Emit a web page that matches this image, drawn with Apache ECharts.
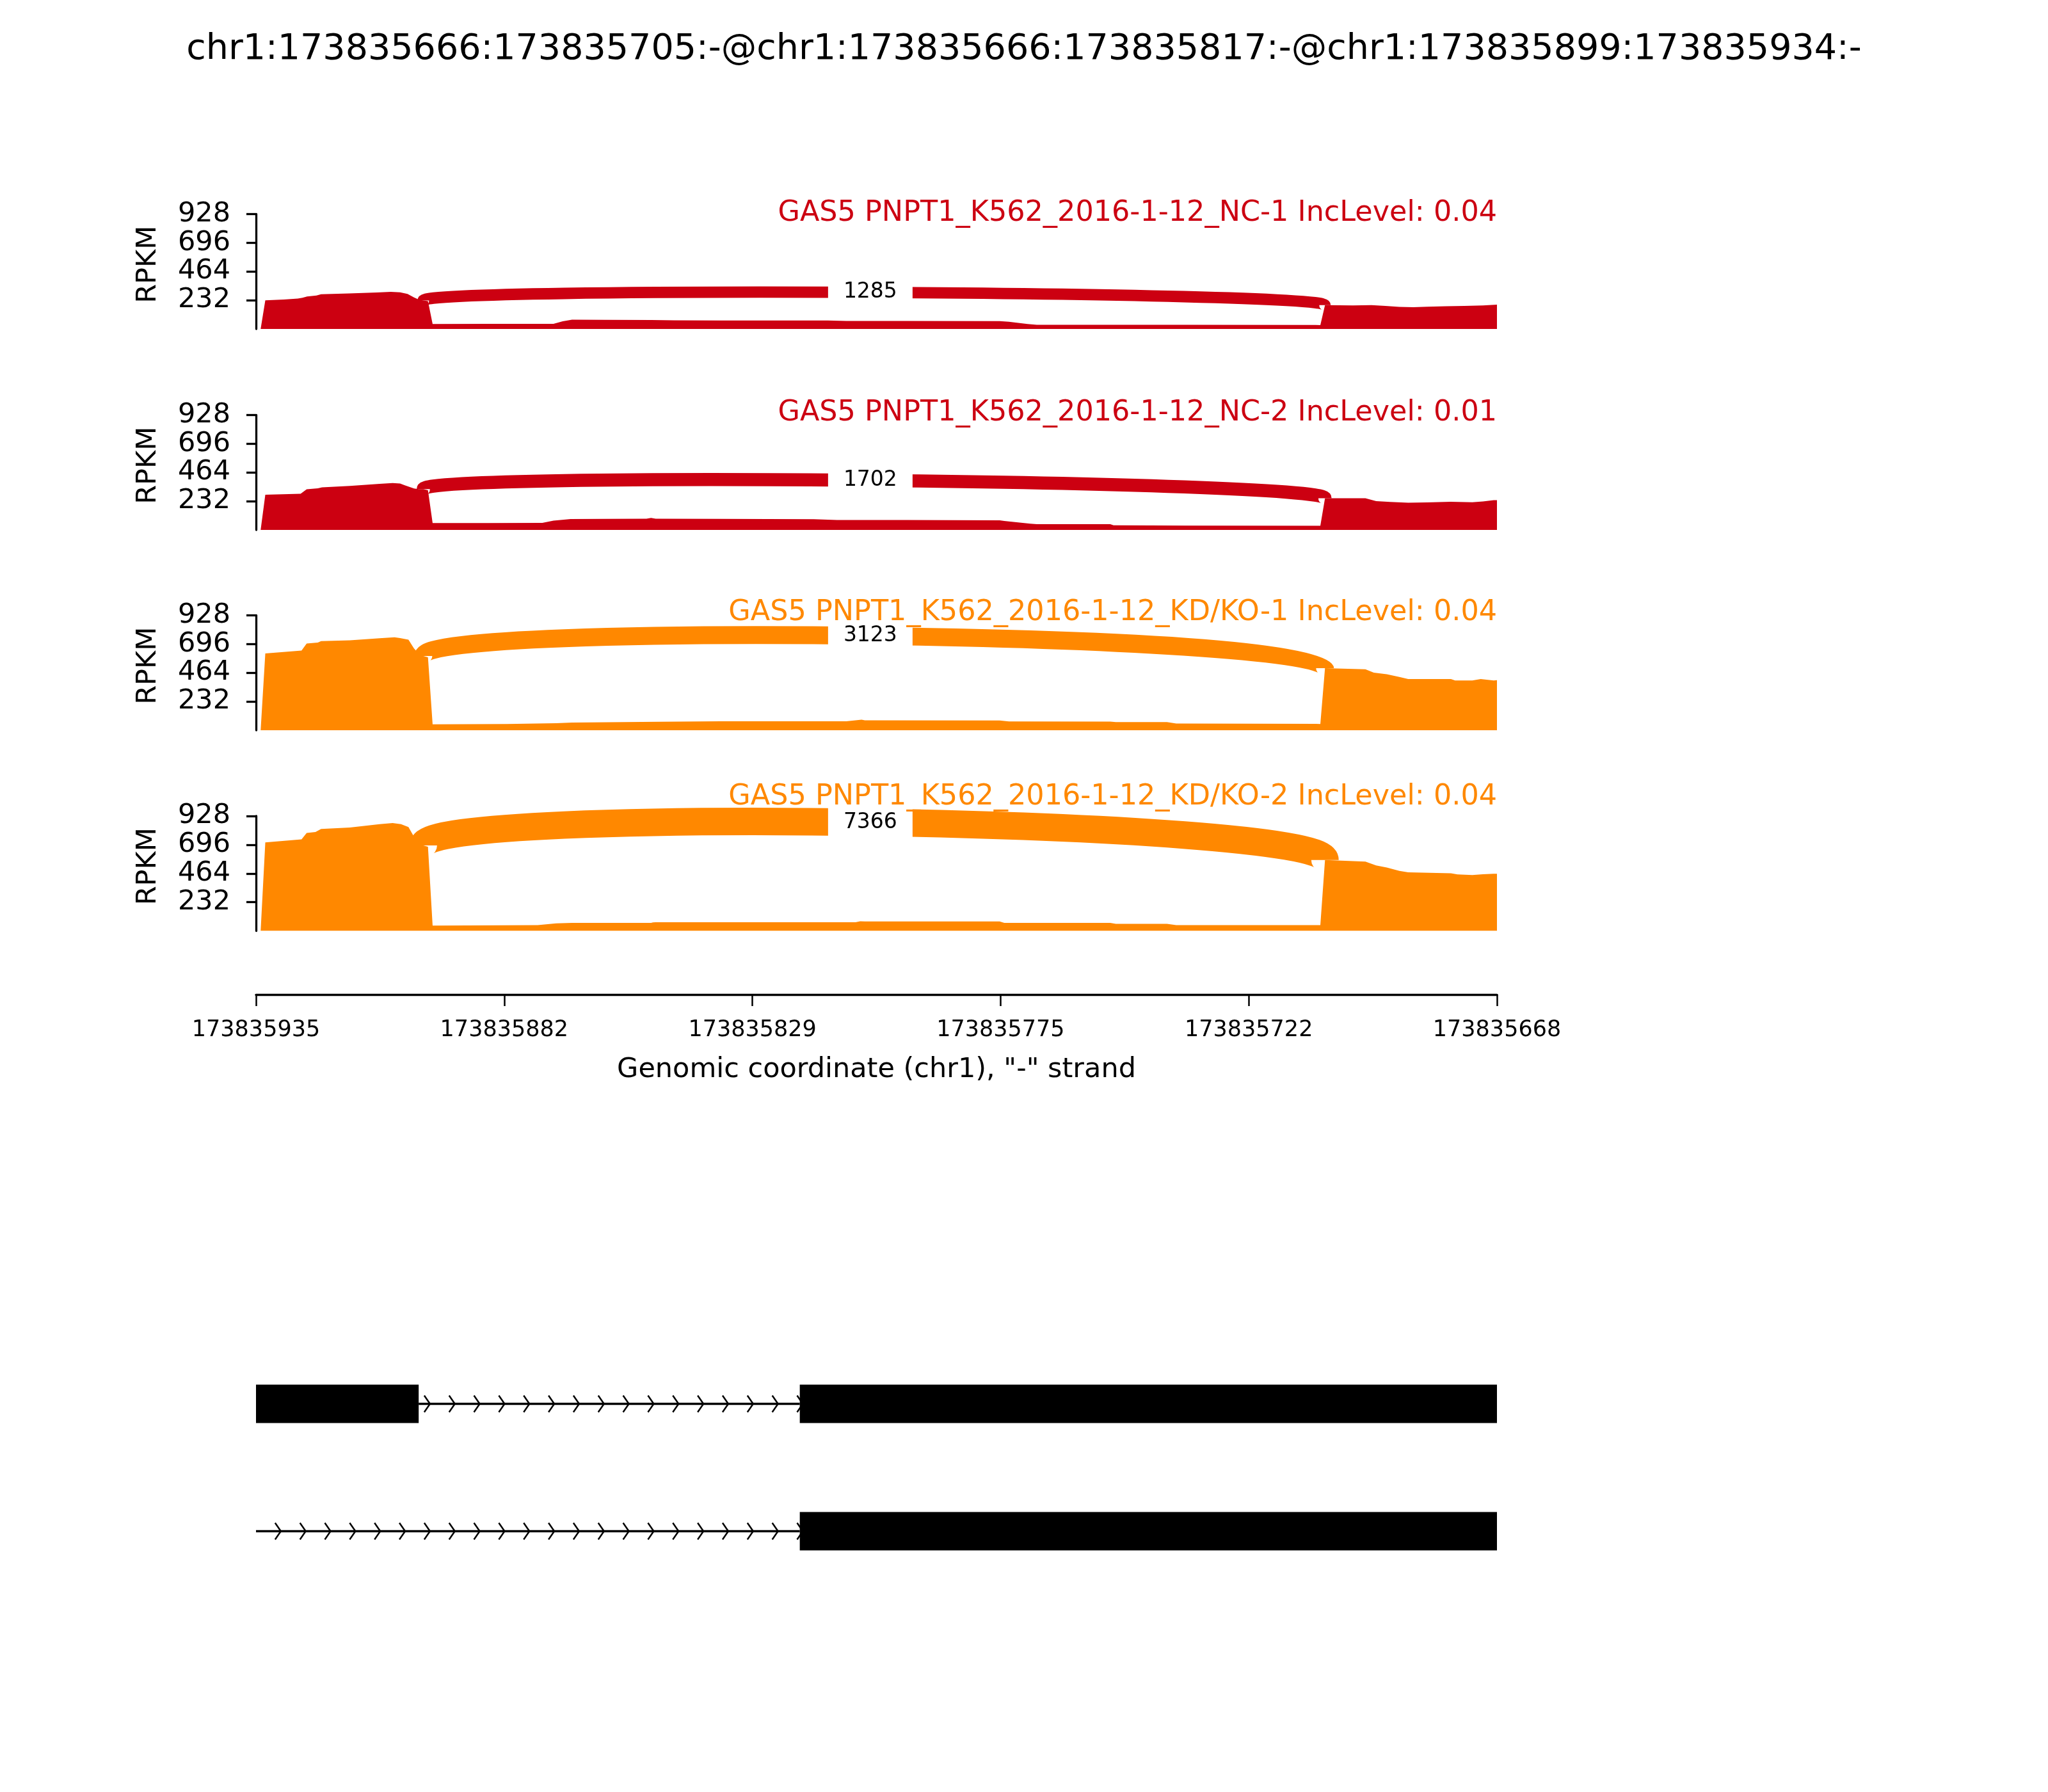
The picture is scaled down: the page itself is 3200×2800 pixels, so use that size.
<!DOCTYPE html>
<html><head><meta charset="utf-8">
<script src="https://cdn.jsdelivr.net/npm/echarts@6/dist/echarts.min.js"></script>
<style>html,body{margin:0;padding:0;background:#fff}#c{width:3200px;height:2800px}</style>
</head><body><div id="c"></div>
<script>
// ---------------- DATA ----------------
const REF = 173835935; // genomic coordinate at the left edge ("-" strand, decreasing to the right)
const chartTitle = 'chr1:173835666:173835705:-@chr1:173835666:173835817:-@chr1:173835899:173835934:-';
const sampleNames = ['GAS5 PNPT1_K562_2016-1-12_NC-1', 'GAS5 PNPT1_K562_2016-1-12_NC-2',
                     'GAS5 PNPT1_K562_2016-1-12_KD/KO-1', 'GAS5 PNPT1_K562_2016-1-12_KD/KO-2'];
const incLevels = ['0.04', '0.01', '0.04', '0.04'];
const junctionCounts = [1285, 1702, 3123, 7366];
const junctionCoords = [173835899, 173835705];           // junction donor / acceptor
const xTickLabels = ['173835935', '173835882', '173835829', '173835775', '173835722', '173835668'];
const yTickValues = [0, 232, 464, 696, 928];
const xAxisTitle = 'Genomic coordinate (chr1), "-" strand';
const yAxisTitle = 'RPKM';

// coverage: [bases from REF, RPKM]
const covNC1 = [[1,0],[2,231],[6,238],[9,245],[10,252],[11,262],[13,270],[14,280],[20,287],[26,295],[29,300],[31,296],[32.6,283],[34,255],[35,238],[36,230],[37,225],[38,40],[50,42],[64,42],[66,62],[68,75],[75,74],[85,73],[90,70],[100,68],[123,68],[127,65],[140,64],[160,63],[162,58],[166,40],[168,33],[200,33],[228,32],[229,31],[230,192],[236,190],[240,192],[243,186],[246,178],[249,176],[252,180],[256,184],[260,186],[264,190],[267,197]];
const covNC2 = [[1,0],[2,284],[9.6,292],[10.9,328],[13.3,336],[14.2,344],[20.2,356],[26.6,372],[29.4,379],[31,375],[32.1,359],[34,335],[35,330],[36,330],[37,320],[38,55],[50,56],[61.6,57],[64,75],[67.7,88],[75,89],[84,90],[85,97],[86,90],[100,89],[120,86],[125,80],[140,80],[160,78],[161,73],[166.6,50],[168,47],[183.8,46],[184.5,37],[200,35],[228,34],[229,33],[230,256],[238.7,256],[241,233],[244,226],[247.9,220],[252,222],[257,228],[261.7,224],[264,230],[266.3,240],[267,240]];
const covKD1 = [[1,0],[2,620],[9.8,644],[10.9,700],[13.3,708],[14,720],[20.2,727],[26.6,743],[29.8,751],[31,745],[32.8,731],[34,660],[35,620],[36,600],[37,590],[38,48],[54,50],[64.6,57],[68,62],[86.8,68],[100,72],[127,72],[130.3,85],[131,80],[160,79],[162,71],[183.8,70],[185,66],[196,66],[198,54],[228,52],[229,50],[230,501],[238.7,493],[240.5,465],[243.3,453],[246,430],[247.9,414],[257.1,414],[258,402],[261.7,402],[263.5,414],[266.3,402],[267,405]];
const covKD2 = [[1,0],[2,715],[9.8,739],[10.9,791],[12.8,799],[14,823],[20.2,835],[26.6,862],[29.4,871],[31.2,862],[32.8,839],[34,760],[35,710],[36,690],[37,680],[38,43],[60.6,47],[64.6,61],[68,64],[85,64],[85.4,68],[86,70],[129,70],[130,78],[131,76],[160,76],[161,64],[183.8,64],[185,57],[196,57],[198,47],[229,47],[230,572],[238.7,560],[241,528],[243.3,512],[246,485],[247.9,473],[257.1,465],[258.5,456],[261.7,451],[264,458],[266.3,461],[267,461]];

// gene models (genomic coordinates)
const track1Exons = [[173835935, 173835900], [173835818, 173835668]];
const track1Introns = [[173835900, 173835818]];
const track2Exons = [[173835818, 173835668]];
const track2Introns = [[173835935, 173835818]];

// ---------------- LAYOUT / STYLE ----------------
const coverages = [covNC1, covNC2, covKD1, covKD2];
const colors = ['#CC0011', '#CC0011', '#FF8800', '#FF8800'];
const FONT = 'DejaVu Sans';
const plotL = 400, plotR = 2339;
const panelTop = [334.5, 648.5, 961.5, 1275], panelH = 179.5;
const labelY = [333, 645, 957, 1245];
const xMax = REF - 173835668;
const tickStep = xMax / 5;

function covAt(cov, x) {
  for (let i = 1; i < cov.length; i++) {
    if (cov[i][0] >= x) {
      const a = cov[i - 1], b = cov[i];
      return a[1] + (b[1] - a[1]) * (x - a[0]) / (b[0] - a[0]);
    }
  }
  return cov[cov.length - 1][1];
}

const grids = [], xAxes = [], yAxes = [], series = [], graphics = [];
for (let i = 0; i < 4; i++) {
  grids.push({left: plotL, width: plotR - plotL, top: panelTop[i], height: panelH});
  xAxes.push({
    type: 'value', gridIndex: i, min: 0, max: xMax, interval: tickStep,
    show: i === 3, position: 'bottom', offset: 99.5,
    axisLine: {show: true, onZero: false, lineStyle: {color: '#000', width: 3.3}},
    axisTick: {show: true, length: 18, lineStyle: {color: '#000', width: 2.5}},
    axisLabel: {show: true, color: '#000', fontSize: 35, fontFamily: FONT, margin: 38,
      formatter: (v) => xTickLabels[Math.round(v / tickStep)] || ''},
    splitLine: {show: false}
  });
  yAxes.push({
    type: 'value', gridIndex: i, min: yTickValues[0], max: yTickValues[yTickValues.length - 1],
    interval: yTickValues[1] - yTickValues[0],
    axisLine: {show: true, lineStyle: {color: '#000', width: 3.3}},
    axisTick: {show: true, length: 15, lineStyle: {color: '#000', width: 3.3}},
    axisLabel: {color: '#000', fontSize: 43, fontFamily: FONT, margin: 40, showMinLabel: false},
    splitLine: {show: false}
  });
  series.push({
    type: 'line', xAxisIndex: i, yAxisIndex: i, data: coverages[i],
    showSymbol: false, symbol: 'none', lineStyle: {width: 0},
    areaStyle: {color: colors[i], opacity: 1}, itemStyle: {color: colors[i]},
    z: 2, silent: true
  });
  const cov = coverages[i];
  const xl = REF - junctionCoords[0], xr = REF - junctionCoords[1];
  const maxCov = Math.max.apply(null, cov.map(p => p[1]));
  const h = 0.375 * maxCov;
  series.push({
    type: 'custom', xAxisIndex: i, yAxisIndex: i, clip: false, z: 4, silent: true,
    data: [[xl, xr, covAt(cov, xl), covAt(cov, xr), h, junctionCounts[i]]],
    renderItem: (function (col) {
      return function (params, api) {
        const x1 = api.value(0), x2 = api.value(1), yl = api.value(2), yr = api.value(3),
              hh = api.value(4), cnt = api.value(5);
        const p0 = api.coord([x1, yl]), p1 = api.coord([x1, yl + hh]),
              p2 = api.coord([x2, yr + hh]), p3 = api.coord([x2, yr]);
        const mx = (p0[0] + 3 * p1[0] + 3 * p2[0] + p3[0]) / 8 - 6;
        const my = (p0[1] + 3 * p1[1] + 3 * p2[1] + p3[1]) / 8;
        return {type: 'group', children: [
          {type: 'bezierCurve', shape: {x1: p0[0], y1: p0[1], cpx1: p1[0], cpy1: p1[1],
              cpx2: p2[0], cpy2: p2[1], x2: p3[0], y2: p3[1]},
           style: {stroke: col, fill: 'none', lineWidth: 0.5 * Math.sqrt(cnt), lineCap: 'butt'}},
          {type: 'rect', shape: {x: mx - 66, y: my - 32, width: 132, height: 64}, style: {fill: '#fff'}},
          {type: 'text', x: mx, y: my, style: {text: String(cnt), fill: '#000', fontSize: 33,
              fontFamily: FONT, align: 'center', verticalAlign: 'middle'}}
        ]};
      };
    })(colors[i])
  });
  graphics.push({type: 'text', x: plotR, y: labelY[i], z: 100,
    style: {text: sampleNames[i] + ' IncLevel: ' + incLevels[i], fill: colors[i], fontSize: 44.5,
      fontFamily: FONT, align: 'right', verticalAlign: 'middle'}});
  graphics.push({type: 'text', x: 232, y: panelTop[i] + panelH / 2 - 11, rotation: Math.PI / 2, z: 100,
    style: {text: yAxisTitle, fill: '#000', fontSize: 43, fontFamily: FONT, align: 'center', verticalAlign: 'middle'}});
}

// gene model grid
grids.push({left: plotL, width: plotR - plotL, top: 2094, height: 398});
xAxes.push({type: 'value', gridIndex: 4, min: 0, max: xMax, show: false});
yAxes.push({type: 'category', gridIndex: 4, data: ['1', '2'], inverse: true, show: false});

const intronData = [], exonData = [];
track1Introns.forEach(s => intronData.push([REF - s[0], REF - s[1], 0]));
track2Introns.forEach(s => intronData.push([REF - s[0], REF - s[1], 1]));
track1Exons.forEach(s => exonData.push([REF - s[0], REF - s[1], 0]));
track2Exons.forEach(s => exonData.push([REF - s[0], REF - s[1], 1]));

const chevronStep = 38.84;
series.push({
  type: 'custom', xAxisIndex: 4, yAxisIndex: 4, clip: false, z: 2, silent: true, data: intronData,
  encode: {x: [0, 1], y: 2},
  renderItem: function (params, api) {
    const a = api.coord([api.value(0), api.value(2)]);
    const b = api.coord([api.value(1), api.value(2)]);
    const y = a[1];
    const children = [{type: 'line', shape: {x1: a[0], y1: y, x2: b[0], y2: y},
      style: {stroke: '#000', lineWidth: 3.3}}];
    for (let k = 0; k < 200; k++) {
      const tip = plotL + (k + 1) * chevronStep;
      if (tip > b[0] + 12) break;
      if (tip - 9 < a[0] - 1) continue;
      children.push({type: 'polyline', shape: {points: [[tip - 9, y - 13], [tip, y], [tip - 9, y + 13]]},
        style: {stroke: '#000', lineWidth: 2.5, fill: 'none'}});
    }
    return {type: 'group', children: children};
  }
});
series.push({
  type: 'custom', xAxisIndex: 4, yAxisIndex: 4, clip: false, z: 3, silent: true, data: exonData,
  encode: {x: [0, 1], y: 2},
  renderItem: function (params, api) {
    const a = api.coord([api.value(0), api.value(2)]);
    const b = api.coord([api.value(1), api.value(2)]);
    return {type: 'rect', shape: {x: a[0], y: a[1] - 30, width: b[0] - a[0], height: 60},
      style: {fill: '#000'}};
  }
});

graphics.push({type: 'text', x: 1600, y: 78, z: 100,
  style: {text: chartTitle, fill: '#000', fontSize: 55.5, fontFamily: FONT, align: 'center', verticalAlign: 'middle'}});
graphics.push({type: 'text', x: (plotL + plotR) / 2, y: 1672, z: 100,
  style: {text: xAxisTitle, fill: '#000', fontSize: 43, fontFamily: FONT, align: 'center', verticalAlign: 'middle'}});

const chart = echarts.init(document.getElementById('c'), null, {renderer: 'canvas'});
chart.setOption({
  animation: false, backgroundColor: '#fff',
  grid: grids, xAxis: xAxes, yAxis: yAxes, series: series, graphic: graphics
});
</script></body></html>
